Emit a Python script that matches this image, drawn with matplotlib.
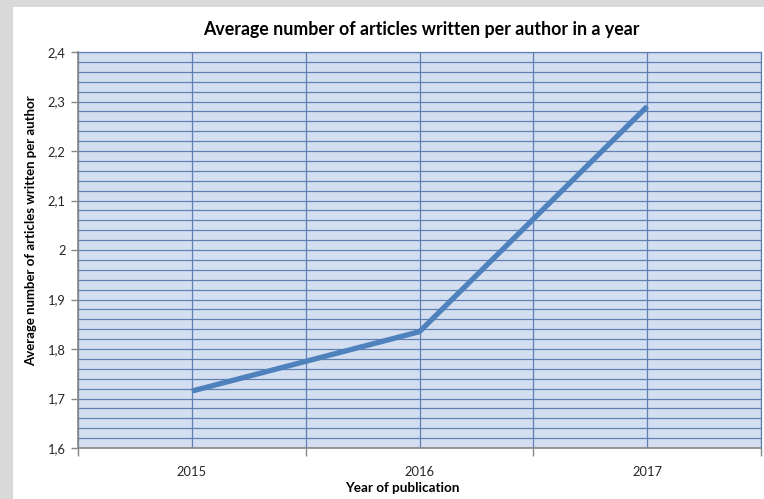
import matplotlib
matplotlib.use("Agg")
import matplotlib.pyplot as plt
from matplotlib.patches import Rectangle
from matplotlib.ticker import FuncFormatter, MultipleLocator, FixedLocator

# chart data
years = ["2015", "2016", "2017"]
avg_articles = [1.715, 1.835, 2.29]

TITLE = "Average number of articles written per author in a year"
XLABEL = "Year of publication"
YLABEL = "Average number of articles written per author"

plt.rcParams["font.family"] = ["Lato", "DejaVu Sans"]

fig = plt.figure(figsize=(7.64, 4.99), dpi=100)
fig.patch.set_facecolor("#d9d9d9")
# white chart panel (screenshot has a grey margin on the left and top)
fig.patches.append(Rectangle((13 / 764, 0), 1, 1 - 7 / 499, transform=fig.transFigure,
                             facecolor="white", edgecolor="none", zorder=-1))

ax = fig.add_axes([78 / 764, 1 - 448 / 499, (761 - 78) / 764, (448 - 52) / 499])
ax.set_zorder(2)
ax.set_facecolor("#d3dff1")

x = list(range(1, len(years) + 1))
ax.plot(x, avg_articles, color="#4f81bd", lw=3.8, solid_capstyle="butt", zorder=3)

ax.set_xlim(0.5, len(years) + 0.5)
ax.set_ylim(1.6, 2.4)

ax.xaxis.set_major_locator(FixedLocator(x))
ax.set_xticklabels(years)
ax.xaxis.set_minor_locator(FixedLocator([i + 0.5 for i in range(len(years) + 1)]))
ax.yaxis.set_major_locator(MultipleLocator(0.1))
ax.yaxis.set_minor_locator(MultipleLocator(0.02))
ax.yaxis.set_major_formatter(FuncFormatter(lambda v, p: f"{v:.10g}".replace(".", ",")))

grid_c = "#5f80b0"
ax.grid(which="both", color=grid_c, lw=0.9, zorder=1)
ax.set_axisbelow(True)

ax.tick_params(axis="x", which="major", length=0, pad=13, labelsize=9.3, colors="#262626")
ax.tick_params(axis="x", which="minor", length=6, color="#868686", width=1)
ax.tick_params(axis="y", which="major", length=5, color="#868686", width=1,
               labelsize=9.3, colors="#262626", pad=4)
ax.tick_params(axis="y", which="minor", length=0)

for side in ("left", "bottom"):
    ax.spines[side].set_color("#868686")
    ax.spines[side].set_linewidth(1.2)
for side in ("top", "right"):
    ax.spines[side].set_color(grid_c)
    ax.spines[side].set_linewidth(0.9)

fig.text(421 / 764, 1 - 30 / 499, TITLE, ha="center", va="center",
         fontsize=12.8, fontweight="bold", color="black")
fig.text(402 / 764, 1 - 488 / 499, XLABEL, ha="center", va="center",
         fontsize=9.7, fontweight="bold", color="black")
fig.text(31 / 764, 1 - 231 / 499, YLABEL, ha="center", va="center", rotation=90,
         fontsize=9.5, fontweight="bold", color="black")

fig.savefig("out.png", dpi=100, facecolor=fig.get_facecolor())
